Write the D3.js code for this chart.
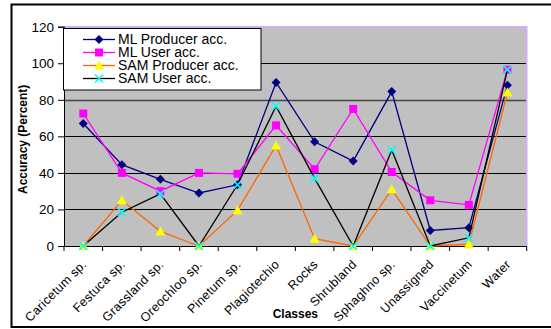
<!DOCTYPE html>
<html>
<head>
<meta charset="utf-8">
<script src="https://cdn.jsdelivr.net/npm/d3@7"></script>
<style>
  html, body { margin: 0; padding: 0; background: #fff; }
  svg { display: block; font-family: "Liberation Sans", Arial, sans-serif; }
</style>
</head>
<body>
<svg id="chart" width="551" height="329"></svg>
<script>
// Classification accuracy per land-cover class
const classes = ["Caricetum sp.", "Festuca sp.", "Grassland sp.", "Oreochloo sp.", "Pinetum sp.",
  "Plagiotechio", "Rocks", "Shrubland", "Sphaghno sp.", "Unassigned", "Vaccinetum", "Water"];
const mlProducer  = [67, 44.5, 36.5, 29, 33.5, 89.5, 57, 46.5, 84.5, 8.5, 10, 88];
const mlUser      = [72.5, 40, 30, 40, 39.5, 66, 42, 75, 40.5, 25, 22.5, 96.5];
const samProducer = [0, 25, 8, 0, 19.5, 55, 4, 0, 31, 0, 1, 84];
const samUser     = [0, 18.5, 28.5, 0, 33.5, 76.5, 37, 0, 52.5, 0, 4.5, 96.5];
const yTicks = [0, 20, 40, 60, 80, 100, 120];
const seriesNames = ["ML Producer acc.", "ML User acc.", "SAM Producer acc.", "SAM User acc."];

const series = [
  { name: seriesNames[0], values: mlProducer,  line: "#000080", fill: "#000080", marker: "diamond" },
  { name: seriesNames[1], values: mlUser,      line: "#FF00FF", fill: "#FF00FF", marker: "square" },
  { name: seriesNames[2], values: samProducer, line: "#FF6600", fill: "#FFFF00", marker: "triangle" },
  { name: seriesNames[3], values: samUser,     line: "#000000", fill: "#00FFFF", marker: "cross" }
];

const svg = d3.select("#chart");
const plot = { left: 64, top: 26.7, right: 526.7, bottom: 246 };

const x = d3.scaleBand().domain(classes).range([plot.left, plot.right]).padding(0);
const y = d3.scaleLinear().domain([0, 120]).range([plot.bottom, plot.top]);

// outer chart frame
svg.append("rect")
  .attr("x", 11.5).attr("y", 4.5).attr("width", 560).attr("height", 322.5)
  .attr("fill", "none").attr("stroke", "#000").attr("stroke-width", 2);

// plot background
svg.append("rect")
  .attr("x", plot.left).attr("y", plot.top)
  .attr("width", plot.right - plot.left).attr("height", plot.bottom - plot.top)
  .attr("fill", "#C0C0C0");

// horizontal gridlines
svg.append("g").selectAll("line")
  .data(yTicks.filter(d => d > 0 && d < 120))
  .join("line")
  .attr("x1", plot.left).attr("x2", plot.right)
  .attr("y1", d => Math.round(y(d)) + 0.5).attr("y2", d => Math.round(y(d)) + 0.5)
  .attr("stroke", d => d === 80 ? "#444" : "#000")
  .attr("stroke-width", d => d === 80 ? 1.6 : 1);

// lavender frame on top and right of plot
svg.append("path")
  .attr("d", `M${plot.left},${plot.top} H${plot.right} V${plot.bottom}`)
  .attr("fill", "none").attr("stroke", "#D2AAFF").attr("stroke-width", 1.6);

// y axis
const yAxis = d3.axisLeft(y).tickValues(yTicks).tickSize(6).tickPadding(4);
const gy = svg.append("g").attr("transform", `translate(${plot.left},0)`).call(yAxis);
gy.select(".domain").attr("stroke", "#000");
gy.selectAll(".tick line").attr("stroke", "#000");
gy.selectAll(".tick text").attr("font-size", 13.5).attr("fill", "#000")
  .attr("font-family", "Liberation Sans, Arial, sans-serif");

// x axis: ticks between categories, labels rotated
const gx = svg.append("g").attr("transform", `translate(0,${plot.bottom})`);
gx.append("line").attr("x1", plot.left).attr("x2", plot.right)
  .attr("y1", 0.5).attr("y2", 0.5).attr("stroke", "#000");
const bounds = classes.map(c => x(c)).concat([plot.right]);
gx.selectAll("line.tk").data(bounds).join("line").attr("class", "tk")
  .attr("x1", d => d).attr("x2", d => d).attr("y1", 0).attr("y2", 5)
  .attr("stroke", "#000");
gx.selectAll("text").data(classes).join("text")
  .attr("transform", d => `translate(${x(d) + x.bandwidth() / 2 + 1},${16}) rotate(-45)`)
  .attr("text-anchor", "end")
  .attr("dy", "0.35em")
  .attr("font-size", 12.5)
  .attr("letter-spacing", 0.3)
  .attr("fill", "#000")
  .text(d => d);

// axis titles
svg.append("text")
  .attr("transform", `translate(27,${(plot.top + plot.bottom) / 2 + 3}) rotate(-90)`)
  .attr("text-anchor", "middle").attr("font-weight", "bold").attr("font-size", 12)
  .text("Accuracy (Percent)");
svg.append("text")
  .attr("x", (plot.left + plot.right) / 2).attr("y", 318)
  .attr("text-anchor", "middle").attr("font-weight", "bold").attr("font-size", 12)
  .text("Classes");

// markers
function drawMarker(g, type, fill) {
  if (type === "diamond") {
    g.append("path").attr("d", "M0,-4.5L4.5,0L0,4.5L-4.5,0Z").attr("fill", fill);
  } else if (type === "square") {
    g.append("rect").attr("x", -4).attr("y", -4).attr("width", 8).attr("height", 8).attr("fill", fill);
  } else if (type === "triangle") {
    g.append("path").attr("d", "M0,-5L5,4L-5,4Z").attr("fill", fill);
  } else if (type === "cross") {
    g.append("path").attr("d", "M-4,-4L4,4M-4,4L4,-4").attr("stroke", fill).attr("stroke-width", 1.6);
  }
}

const line = d3.line().x((d, i) => x(classes[i]) + x.bandwidth() / 2).y(d => y(d));

series.forEach(s => {
  const g = svg.append("g");
  g.append("path").datum(s.values).attr("d", line)
    .attr("fill", "none").attr("stroke", s.line).attr("stroke-width", 1.3);
  s.values.forEach((v, i) => {
    const m = g.append("g")
      .attr("transform", `translate(${x(classes[i]) + x.bandwidth() / 2},${y(v)})`);
    drawMarker(m, s.marker, s.fill);
  });
});

// legend
const legend = svg.append("g");
legend.append("rect").attr("x", 63.5).attr("y", 28.5).attr("width", 197.5).attr("height", 61.5)
  .attr("fill", "#fff").attr("stroke", "#000");
series.forEach((s, i) => {
  const cy = 39.5 + i * 13;
  legend.append("line").attr("x1", 83).attr("x2", 115).attr("y1", cy).attr("y2", cy)
    .attr("stroke", s.line).attr("stroke-width", 1.3);
  const m = legend.append("g").attr("transform", `translate(99,${cy})`);
  drawMarker(m, s.marker, s.fill);
  legend.append("text").attr("x", 118).attr("y", cy).attr("dy", "0.35em")
    .attr("font-size", 14).attr("fill", "#000").text(s.name);
});
</script>
</body>
</html>
